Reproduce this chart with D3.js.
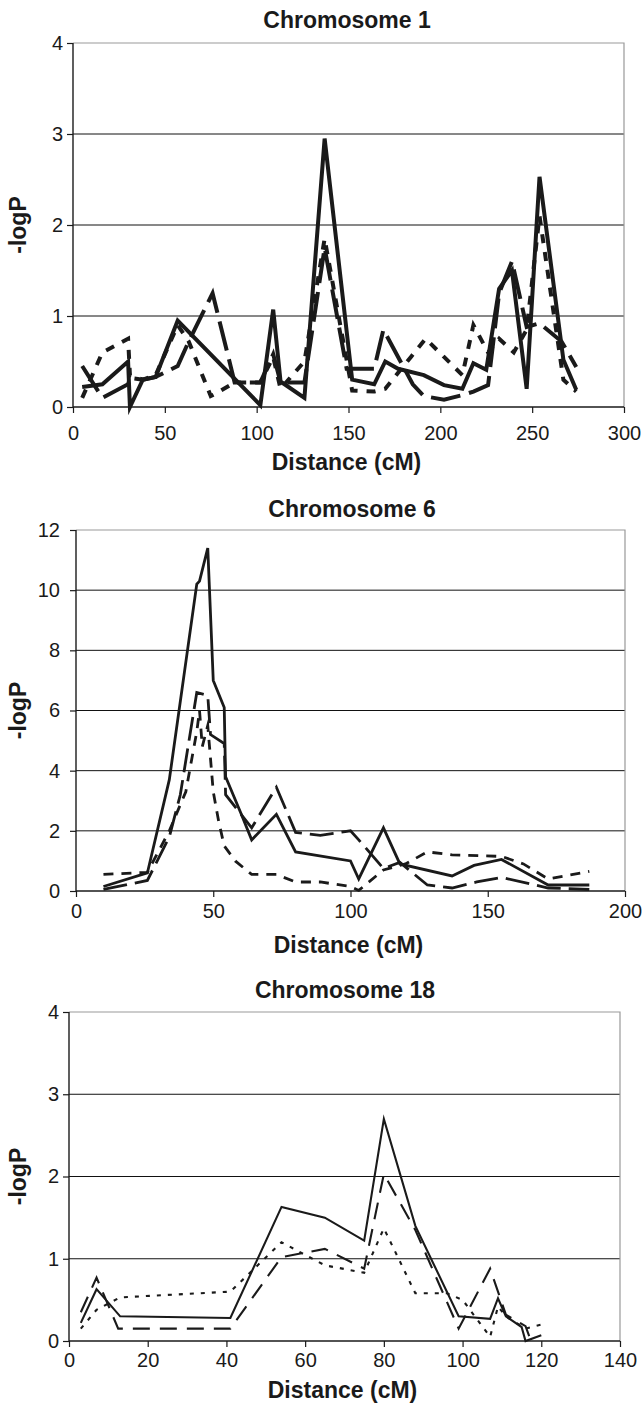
<!DOCTYPE html>
<html><head><meta charset="utf-8">
<script src="https://cdn.jsdelivr.net/npm/d3@7"></script>
<style>body{margin:0;background:#fff} svg{display:block}</style>
</head><body>
<svg id="c" width="643" height="1403"></svg>
<script>
// ---------- DATA (distance cM, -logP) ----------
const chr1Solid = [[5,0.22],[16,0.25],[30,0.5],[31,0.0],[38,0.3],[45,0.33],[57,0.95],[102,0.02],[109,1.07],[113,0.28],[126,0.1],[137,2.95],[152,0.3],[164,0.25],[170,0.5],[177,0.42],[191,0.35],[202,0.24],[212,0.2],[218,0.48],[225,0.41],[232,1.3],[239,1.5],[247,0.2],[254,2.53],[267,0.52],[274,0.19]];
const chr1LongDash = [[5,0.45],[16,0.1],[30,0.25],[31,0.32],[38,0.3],[45,0.33],[57,0.45],[63,0.72],[76,1.25],[88,0.27],[102,0.27],[109,0.58],[113,0.27],[126,0.27],[137,1.75],[149,0.42],[164,0.42],[169,0.85],[185,0.25],[191,0.12],[202,0.08],[212,0.13],[218,0.17],[226,0.24],[232,1.25],[239,1.6],[247,0.88],[254,0.92],[266,0.72],[274,0.44]];
const chr1ShortDash = [[5,0.1],[16,0.6],[30,0.75],[31,0.35],[38,0.3],[45,0.35],[57,0.9],[63,0.72],[75,0.12],[78,0.15],[88,0.27],[102,0.27],[109,0.55],[113,0.2],[126,0.5],[137,1.85],[152,0.18],[164,0.17],[170,0.2],[184,0.55],[192,0.75],[202,0.55],[212,0.35],[218,0.9],[226,0.6],[232,0.75],[240,0.6],[247,0.85],[254,2.1],[267,0.3],[274,0.17]];

const chr6Solid = [[10,0.15],[26,0.6],[34,3.7],[44,10.2],[45,10.3],[48,11.4],[50,7.0],[54,6.1],[54.5,3.8],[60,2.6],[64,1.7],[73,2.55],[80,1.3],[100,1.0],[103,0.4],[112,2.1],[118,0.9],[137,0.5],[145,0.85],[155,1.05],[172,0.2],[187,0.2]];
const chr6LongDash = [[10,0.05],[26,0.35],[34,1.8],[38,3.2],[44,6.6],[48,6.5],[49,5.2],[54,4.9],[54.5,3.2],[64,2.1],[73,3.45],[80,1.95],[89,1.85],[100,2.0],[103,1.7],[112,0.75],[118,0.95],[128,0.2],[137,0.1],[146,0.3],[155,0.45],[172,0.1],[187,0.05]];
const chr6ShortDash = [[10,0.55],[26,0.62],[34,2.0],[40,3.3],[44,5.3],[45,6.0],[46,4.8],[48,5.5],[50,3.3],[52,2.3],[54,1.5],[58,1.0],[64,0.55],[73,0.55],[80,0.3],[89,0.3],[100,0.15],[103,0.02],[112,0.7],[120,0.9],[128,1.3],[137,1.2],[155,1.15],[163,0.9],[172,0.4],[187,0.65]];

const chr18Solid = [[3,0.22],[7,0.63],[13,0.3],[41,0.28],[54,1.63],[65,1.5],[75,1.22],[80,2.7],[88,1.4],[99,0.3],[107,0.27],[109,0.52],[111,0.3],[115,0.17],[116,0.0],[120,0.07]];
const chr18LongDash = [[3,0.35],[7,0.77],[12.5,0.15],[41,0.15],[54,1.02],[65,1.12],[75,0.88],[80,2.03],[88,1.35],[99,0.15],[107,0.88],[111,0.32],[116,0.18],[117,0.05]];
const chr18Dotted = [[3,0.15],[7,0.38],[13,0.53],[41,0.6],[54,1.2],[65,0.92],[75,0.83],[80,1.37],[88,0.58],[96,0.58],[100,0.5],[107,0.05],[109,0.42],[111,0.3],[116,0.15],[120,0.2]];

const titles = ["Chromosome 1","Chromosome 6","Chromosome 18"];
const xDomains = [[0,300],[0,200],[0,140]];
const xTickValues = [[0,50,100,150,200,250,300],[0,50,100,150,200],[0,20,40,60,80,100,120,140]];
const yDomains = [[0,4],[0,12],[0,4]];
const yTickValues = [[0,1,2,3,4],[0,2,4,6,8,10,12],[0,1,2,3,4]];
const seriesSets = [[chr1Solid,chr1LongDash,chr1ShortDash],[chr6Solid,chr6LongDash,chr6ShortDash],[chr18Solid,chr18LongDash,chr18Dotted]];

// ---------- LAYOUT / STYLE ----------
const layouts = [
  {l:73,r:624,t:43,b:407, titleX:347, titleY:28, xTickBase:440, xTitleY:470, yPad:4, width:4, dashes:[null,"30,9","9,9"]},
  {l:76,r:625,t:530,b:891, titleX:352, titleY:517, xTickBase:918, xTitleY:953, yPad:10, width:2.8, dashes:[null,"24,8","10,8"]},
  {l:69,r:620,t:1012,b:1341, titleX:345, titleY:998, xTickBase:1367, xTitleY:1398, yPad:4, width:2.1, dashes:[null,"17,10","4,7"]}
];
const FONT = "'Liberation Sans', Arial, Helvetica, sans-serif";
const INK = "#1a1a1a";

const svg = d3.select("#c");

layouts.forEach((L, i) => {
  const x = d3.scaleLinear().domain(xDomains[i]).range([L.l, L.r]);
  const y = d3.scaleLinear().domain(yDomains[i]).range([L.b, L.t]);
  const g = svg.append("g");

  const yMax = yDomains[i][1];
  g.selectAll("line.grid").data(yTickValues[i].filter(v => v > 0 && v < yMax)).join("line")
    .attr("x1", L.l).attr("x2", L.r)
    .attr("y1", d => y(d)).attr("y2", d => y(d))
    .attr("stroke", "#111").attr("stroke-width", 1);

  g.append("path")
    .attr("d", `M${L.l},${y(yMax)}H${L.r}V${L.b}`)
    .attr("fill", "none").attr("stroke", "#999").attr("stroke-width", 1.2);

  const line = d3.line().x(d => x(d[0])).y(d => y(d[1]));
  seriesSets[i].forEach((s, k) => {
    g.append("path").datum(s)
      .attr("d", line)
      .attr("fill", "none")
      .attr("stroke", INK)
      .attr("stroke-width", L.width)
      .attr("stroke-linejoin", "miter")
      .attr("stroke-miterlimit", 6)
      .attr("stroke-dasharray", L.dashes[k]);
  });

  const xa = g.append("g").attr("transform", `translate(0,${L.b})`)
    .call(d3.axisBottom(x).tickValues(xTickValues[i]).tickSize(6).tickFormat(d3.format("d")));
  xa.select(".domain").attr("stroke", INK).attr("stroke-width", 1.4).attr("d", `M${L.l},0H${L.r}`);
  xa.selectAll(".tick line").attr("stroke", INK).attr("stroke-width", 1.2);
  xa.selectAll(".tick text").attr("dy", null).attr("y", L.xTickBase - L.b)
    .style("font-family", FONT).style("font-size", "20px").attr("fill", INK);

  const ya = g.append("g").attr("transform", `translate(${L.l},0)`)
    .call(d3.axisLeft(y).tickValues(yTickValues[i]).tickSize(6).tickPadding(L.yPad).tickFormat(d3.format("d")));
  ya.select(".domain").attr("stroke", INK).attr("stroke-width", 1.4).attr("d", `M0,${L.t}V${L.b}`);
  ya.selectAll(".tick line").attr("stroke", INK).attr("stroke-width", 1.2);
  ya.selectAll(".tick text").style("font-family", FONT).style("font-size", "20px").attr("fill", INK);

  g.append("text").attr("x", L.titleX).attr("y", L.titleY).attr("text-anchor", "middle")
    .style("font-family", FONT).style("font-size", "23px").style("font-weight", "bold").attr("fill", INK)
    .text(titles[i]);
  g.append("text").attr("x", (L.l + L.r) / 2 - 2).attr("y", L.xTitleY).attr("text-anchor", "middle")
    .style("font-family", FONT).style("font-size", "23px").style("font-weight", "bold").attr("fill", INK)
    .text("Distance (cM)");
  g.append("text").attr("transform", `translate(26,${(L.t + L.b) / 2}) rotate(-90)`).attr("text-anchor", "middle")
    .style("font-family", FONT).style("font-size", "23px").style("font-weight", "bold").attr("fill", INK)
    .text("-logP");
});
</script>
</body></html>
